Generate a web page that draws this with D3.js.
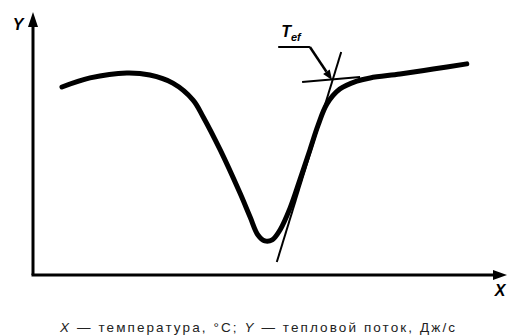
<!DOCTYPE html>
<html>
<head>
<meta charset="utf-8">
<script src="https://cdn.jsdelivr.net/npm/d3@7"></script>
<style>
  body { margin: 0; background: #fff; }
  svg { display: block; }
</style>
</head>
<body>
<div id="chart"></div>
<script>
// DSC curve (arbitrary units: temperature 0..100, heat flow 0..100)
const temperature = [6.3, 12.4, 20.4, 25.4, 30.4, 34.8, 37.0, 40.7, 45.0, 47.2, 48.9, 50.4, 52.0, 53.7, 55.9, 58.0, 60.2, 62.0, 63.9, 66.7, 70.4, 73.3, 79.8, 87.0, 94.3];
const heatFlow    = [72.3, 75.8, 77.7, 76.9, 73.8, 67.3, 60.8, 48.1, 31.5, 22.3, 15.4, 13.1, 13.5, 17.3, 25.8, 36.5, 48.1, 57.7, 65.8, 71.5, 74.6, 75.8, 77.3, 79.2, 81.2];

// construction lines
const tangentX  = [53.0, 67.0];
const tangentY  = [5.0, 85.8];
const baselineX = [58.5, 71.1];
const baselineY = [74.2, 76.2];

// label T_ef and its pointer
const labelX = [53.3, 60.2];   // underline from / to
const labelY = 87.7;
const onset = [65.0, 75.0];

const caption = ["X", " — температура, °C; ", "Y", " — тепловой поток, Дж/с"];

const width = 508, height = 335;

const svg = d3.select("#chart")
    .append("svg")
    .attr("width", width)
    .attr("height", height);

const x = d3.scaleLinear().domain([0, 100]).range([33, 493]);
const y = d3.scaleLinear().domain([0, 100]).range([275, 15]);

// axes with arrows
const x0 = x(0), y0 = y(0);
svg.append("line")
    .attr("x1", x0).attr("y1", y0)
    .attr("x2", x0).attr("y2", 20)
    .attr("stroke", "#000").attr("stroke-width", 3);
svg.append("line")
    .attr("x1", x0 - 1.5).attr("y1", y0)
    .attr("x2", 500).attr("y2", y0)
    .attr("stroke", "#000").attr("stroke-width", 3);
svg.append("path")
    .attr("d", `M${x0},12 L${x0 + 5},27 L${x0 - 5},27 Z`)
    .attr("fill", "#000");
svg.append("path")
    .attr("d", `M507,${y0} L493,${y0 - 5} L493,${y0 + 5} Z`)
    .attr("fill", "#000");

svg.append("text")
    .attr("x", 18).attr("y", 30)
    .attr("text-anchor", "middle")
    .attr("font-family", "Liberation Sans, Arial, sans-serif")
    .attr("font-weight", "bold").attr("font-style", "italic")
    .attr("font-size", 16)
    .text("Y");
svg.append("text")
    .attr("x", 500).attr("y", 296)
    .attr("text-anchor", "middle")
    .attr("font-family", "Liberation Sans, Arial, sans-serif")
    .attr("font-weight", "bold").attr("font-style", "italic")
    .attr("font-size", 16)
    .text("X");

// construction lines
svg.append("line")
    .attr("x1", x(tangentX[0])).attr("y1", y(tangentY[0]))
    .attr("x2", x(tangentX[1])).attr("y2", y(tangentY[1]))
    .attr("stroke", "#000").attr("stroke-width", 2);
svg.append("line")
    .attr("x1", x(baselineX[0])).attr("y1", y(baselineY[0]))
    .attr("x2", x(baselineX[1])).attr("y2", y(baselineY[1]))
    .attr("stroke", "#000").attr("stroke-width", 2);

// curve
const line = d3.line()
    .x(d => x(d[0]))
    .y(d => y(d[1]))
    .curve(d3.curveCatmullRom.alpha(0.5));

svg.append("path")
    .datum(d3.zip(temperature, heatFlow))
    .attr("d", line)
    .attr("fill", "none")
    .attr("stroke", "#000")
    .attr("stroke-width", 5)
    .attr("stroke-linecap", "round")
    .attr("stroke-linejoin", "round");

// label with pointer
svg.append("line")
    .attr("x1", x(labelX[0])).attr("y1", y(labelY))
    .attr("x2", x(labelX[1])).attr("y2", y(labelY))
    .attr("stroke", "#000").attr("stroke-width", 2);

const px = x(labelX[1]), py = y(labelY);
const ox = x(onset[0]), oy = y(onset[1]);
const ang = Math.atan2(oy - py, ox - px);
const hl = 10, hw = 4;
const bx = ox - hl * Math.cos(ang), by = oy - hl * Math.sin(ang);
svg.append("line")
    .attr("x1", px).attr("y1", py)
    .attr("x2", bx).attr("y2", by)
    .attr("stroke", "#000").attr("stroke-width", 2.5);
svg.append("path")
    .attr("d", `M${ox},${oy} L${bx + hw * Math.sin(ang)},${by - hw * Math.cos(ang)} L${bx - hw * Math.sin(ang)},${by + hw * Math.cos(ang)} Z`)
    .attr("fill", "#000");

const lbl = svg.append("text")
    .attr("x", x(labelX[0]) + 3).attr("y", y(labelY) - 10)
    .attr("font-family", "Liberation Sans, Arial, sans-serif")
    .attr("font-weight", "bold").attr("font-style", "italic")
    .attr("font-size", 16);
lbl.append("tspan").text("T");
lbl.append("tspan").attr("dy", 4).attr("font-size", 11).text("ef");

// caption
const cap = svg.append("text")
    .attr("x", 60).attr("y", 332)
    .attr("textLength", 395)
    .attr("lengthAdjust", "spacing")
    .attr("font-family", "Liberation Sans, Arial, sans-serif")
    .attr("font-size", 13.5)
    .attr("fill", "#222");
caption.forEach((s, i) => {
    cap.append("tspan")
        .attr("font-style", i % 2 === 0 ? "italic" : "normal")
        .text(s);
});
</script>
</body>
</html>
